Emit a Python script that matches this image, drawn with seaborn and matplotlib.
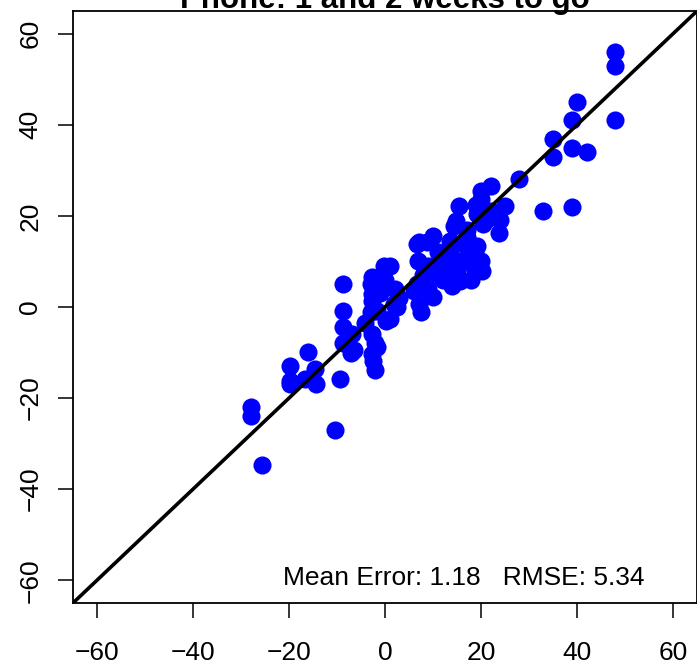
import matplotlib
matplotlib.use("Agg")
import matplotlib.pyplot as plt
import seaborn as sns
import pandas as pd

# Forecast (x) vs outcome (y)
predicted = [48, 48, 48, 40, 39, 35, 35, 39, 42, 33, 39, 28,
             22, 20, 20, 15.5, 19, 25, 24, 23.7, 20.5, 19.2, 14.7, 14.3, 17, 19.2,
             13.6, 10, 7, 8.8, 18.8, 13.6, 15.7, 20, 20.2, 18.5, 15.7, 14, 15, 10.9,
             10.1, 7, 7.4, 6, 6.7, 6.9, 6.7, 12, 11, 9, 8, 17, 22, 21, 23, 17, 12, 9,
             13, 16, 18,
             -0.3, 1, -2.7, -3, -2.7, -2.7, 0.5, 1.8, 2.4, 2.1, 1.1, 0.3, -3, -4.1,
             -1.7, -2.7, -1.7, -2.8, -2.4, -2.1, -2.1, 3, 0, -1,
             -8.7, -8.7, -8.8, -6.9, -8.7, -7.1, -16, -19.8, -19.8, -19.8, -16.7,
             -14.6, -14.4, -9.4, -6.5,
             -28, -28, -10.4, -25.7]
actual = [56, 53, 41, 45, 41, 37, 33, 35, 34, 21, 22, 28,
          26.5, 25.5, 23.7, 22.2, 22.5, 22.2, 19.2, 16.2, 18.2, 20.4, 18.9, 17.8, 15.3, 13.4,
          14.5, 15.5, 14.3, 14.2, 12.3, 12.3, 10.2, 10.2, 8, 8.7, 5.8, 4.7, 7.6, 7.3,
          2.1, 0.7, -1.1, 3.6, 5.1, 10.1, 13.8, 10, 12, 9, 7, 11, 21, 19, 20.5, 17, 6, 4,
          9, 14, 6,
          9.1, 9.1, 6.5, 5.1, 2.9, 1.4, 4.3, 0.7, -0.1, 3.9, -2.6, -3.1, -1.1, -3.5,
          -0.9, -5.9, -8.8, -10.4, -11.9, -13.9, -7.8, 2, 6, 3,
          5, -0.9, -4.5, -6, -7.8, -10, -9.8, -13, -16.3, -17, -15.9,
          -13.7, -17, -15.9, -9.5,
          -22, -24, -27.1, -34.6]

title = "Phone: 1 and 2 weeks to go"
note = "Mean Error: 1.18   RMSE: 5.34"
ticks = [-60, -40, -20, 0, 20, 40, 60]

df = pd.DataFrame({"predicted": predicted, "actual": actual})

sns.set_style("ticks")
plt.rcParams["font.family"] = ["Liberation Sans", "DejaVu Sans"]

fig = plt.figure(figsize=(6.97, 6.66), dpi=100)
ax = fig.add_axes([73 / 697, 1 - 603 / 666, 624 / 697, 592 / 666])

sns.scatterplot(data=df, x="predicted", y="actual", ax=ax, color="#0000FF",
                s=170, linewidth=0, alpha=1, legend=False, zorder=2)
ax.axline((0, 0), slope=1, color="black", linewidth=2.6, zorder=3)

ax.set_xlim(-65, 65)
ax.set_ylim(-65, 65)
ax.set_xticks(ticks)
ax.set_yticks(ticks)
ax.set_xticklabels([str(t).replace("-", "\u2212") for t in ticks])
ax.set_yticklabels([str(t).replace("-", "\u2212") for t in ticks], rotation=90, va="center")
ax.tick_params(axis="both", length=11, width=1.1, color="black", labelsize=19,
               labelcolor="black")
ax.tick_params(axis="x", pad=16)
ax.tick_params(axis="y", pad=11)
ax.set_xlabel("")
ax.set_ylabel("")
for sp in ax.spines.values():
    sp.set_visible(True)
    sp.set_color("black")
    sp.set_linewidth(1.3)

ax.text(54, -59.5, note, ha="right", va="center", fontsize=19, color="black")
fig.text(384.5 / 697, 1 - 8 / 666, title, ha="center", va="baseline",
         fontsize=22.5, fontweight="bold", color="black")

fig.savefig("out.png", dpi=100)
